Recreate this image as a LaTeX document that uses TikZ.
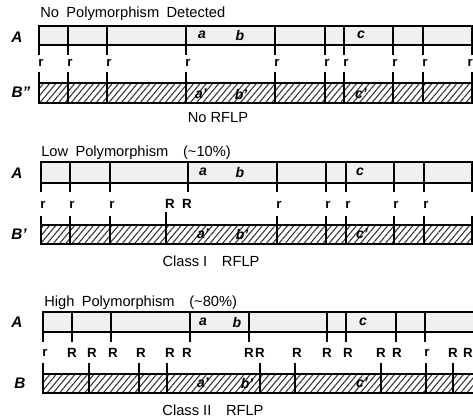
\documentclass[tikz,border=0pt]{standalone}
\usepackage{fontspec}
\setmainfont{Liberation Sans}
\usetikzlibrary{patterns.meta}

\tikzset{
  bar/.style={line width=1.4pt},
  plainbar/.style={bar, fill=black!6},
  hatchbar/.style={bar, pattern={Lines[angle=50, distance=3.6pt, line width=0.8pt]}, pattern color=black!80},
  site/.style={line width=1.4pt},
  lowr/.style={font=\bfseries\fontsize{10}{11}\selectfont, inner sep=0pt, anchor=west},
  bigr/.style={font=\bfseries\fontsize{10}{11}\selectfont, inner sep=0pt},
  seg/.style={font=\bfseries\itshape\fontsize{10.5}{12}\selectfont, inner sep=0pt},
  strain/.style={font=\bfseries\itshape\fontsize{11.5}{13}\selectfont, inner sep=0pt},
  caption/.style={font=\fontsize{11}{13}\selectfont, inner sep=0pt},
}

\begin{document}
\begin{tikzpicture}[x=0.75pt, y=-0.75pt]
        \useasboundingbox (0,0) rectangle (473,419);
        \clip (0,0) rectangle (473,419);

        % no polymorphism
        \node[caption, anchor=west] (title1) at (40,14) {No\enspace Polymorphism\enspace Detected};
        \draw[plainbar] (39,26) rectangle (480,45);
        \draw[hatchbar] (39,83) rectangle (480,103);
        \foreach \x in {68,107,186,275,325,344,393,423,472} {
            \draw[site] (\x,26) -- (\x,45);
            \draw[site] (\x,83) -- (\x,103);
        }
        \foreach \x in {39,68,107,186,275,325,344,393,423,472} {
            \draw[site] (\x,45) -- (\x,55);
            \draw[site] (\x,72) -- (\x,83);
        }
        \node[strain] (A1) at (17,37) {A};
        \node[strain] (B1) at (21,92) {B''};
        \node[seg] (a1) at (202,35) {a};
        \node[seg] (b1) at (240,35) {b};
        \node[seg] (c1) at (361,35) {c};
        \node[seg] (a1p) at (201,94) {a'};
        \node[seg] (b1p) at (241,94) {b'};
        \node[seg] (c1p) at (361,94) {c'};
        \node[lowr] (r11) at (38,63) {r};
        \node[lowr] (r12) at (67,63) {r};
        \node[lowr] (r13) at (106,63) {r};
        \node[lowr] (r14) at (185,63) {r};
        \node[lowr] (r15) at (274,63) {r};
        \node[lowr] (r16) at (324,63) {r};
        \node[lowr] (r17) at (343,63) {r};
        \node[lowr] (r18) at (392,63) {r};
        \node[lowr] (r19) at (422,63) {r};
        \node[lowr, anchor=east] (r110) at (473,63) {r};
        \node[caption] (cap1) at (218,118) {No RFLP};

        % low polymorphism
        \node[caption, anchor=west] (title2) at (41,153) {Low\enspace Polymorphism\enspace\enspace (\textasciitilde 10\%)};
        \draw[plainbar] (41,162) rectangle (480,183);
        \draw[hatchbar] (41,225) rectangle (480,244);
        \foreach \x in {70,110,188,277,326,346,394,424,472} {
            \draw[site] (\x,162) -- (\x,183);
            \draw[site] (\x,183) -- (\x,192);
        }
        \draw[site] (41,183) -- (41,192);
        \foreach \x in {70,110,166,277,326,346,394,424,472} {
            \draw[site] (\x,225) -- (\x,244);
        }
        \foreach \x in {41,70,110,277,326,346,394,424,472} {
            \draw[site] (\x,216) -- (\x,225);
        }
        \draw[site] (166,212) -- (166,225);
        \node[strain] (A2) at (17,173) {A};
        \node[strain] (B2) at (19,234) {B'};
        \node[seg] (a2) at (203,172) {a};
        \node[seg] (b2) at (240,172) {b};
        \node[seg] (c2) at (360,172) {c};
        \node[seg] (a2p) at (203,234) {a'};
        \node[seg] (b2p) at (242,234) {b'};
        \node[seg] (c2p) at (362,234) {c'};
        \node[lowr] (r21) at (40,205) {r};
        \node[lowr] (r22) at (69,205) {r};
        \node[lowr] (r23) at (109,205) {r};
        \node[bigr] (R21) at (170,204) {R};
        \node[bigr] (R22) at (187,204) {R};
        \node[lowr] (r24) at (276,205) {r};
        \node[lowr] (r25) at (325,205) {r};
        \node[lowr] (r26) at (345,205) {r};
        \node[lowr] (r27) at (393,205) {r};
        \node[lowr] (r28) at (423,205) {r};
        \node[caption] (cap2) at (211,261) {Class I\enspace\enspace RFLP};

        % high polymorphism
        \node[caption, anchor=west] (title3) at (44,303) {High\enspace Polymorphism\enspace\enspace (\textasciitilde 80\%)};
        \draw[plainbar] (43,312) rectangle (480,332);
        \draw[hatchbar] (43,374) rectangle (480,393);
        \foreach \x in {72,111,190,249,327,346,396,425} {
            \draw[site] (\x,312) -- (\x,342);
        }
        \draw[site] (43,332) -- (43,342);
        \foreach \x in {89,139,167,260,295,381,426,453} {
            \draw[site] (\x,363) -- (\x,393);
        }
        \draw[site] (43,363) -- (43,374);
        \node[strain] (A3) at (17,322) {A};
        \node[strain] (B3) at (20,383) {B};
        \node[seg] (a3) at (203,322) {a};
        \node[seg] (b3) at (237,322) {b};
        \node[seg] (c3) at (363,322) {c};
        \node[seg] (a3p) at (203,383) {a'};
        \node[seg] (b3p) at (247,383) {b'};
        \node[seg] (c3p) at (362,383) {c'};
        \node[lowr] (r31) at (42,353) {r};
        \node[bigr] (R31) at (72,353) {R};
        \node[bigr] (R32) at (92,353) {R};
        \node[bigr] (R33) at (113,353) {R};
        \node[bigr] (R34) at (141,353) {R};
        \node[bigr] (R35) at (170,353) {R};
        \node[bigr] (R36) at (187,353) {R};
        \node[bigr] (R37) at (249,353) {R};
        \node[bigr] (R38) at (260,353) {R};
        \node[bigr] (R39) at (297,353) {R};
        \node[bigr] (R310) at (327,353) {R};
        \node[bigr] (R311) at (348,353) {R};
        \node[bigr] (R312) at (381,353) {R};
        \node[bigr] (R313) at (397,353) {R};
        \node[lowr] (r32) at (424,353) {r};
        \node[bigr] (R314) at (453,353) {R};
        \node[bigr, anchor=east] (R315) at (473,353) {R};
        \node[caption] (cap3) at (213,410) {Class II\enspace\enspace RFLP};
\end{tikzpicture}
\end{document}
